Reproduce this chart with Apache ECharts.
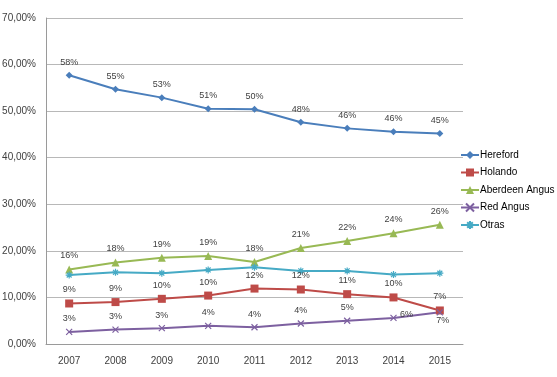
<!DOCTYPE html>
<html>
<head>
<meta charset="utf-8">
<script src="https://cdn.jsdelivr.net/npm/echarts@6/dist/echarts.min.js"></script>
<style>
html,body{margin:0;padding:0;background:#fff;}
#chart{width:557px;height:377px;}
</style>
</head>
<body>
<div id="chart"></div>
<script>
var years = ['2007','2008','2009','2010','2011','2012','2013','2014','2015'];
var hereford = [57.7, 54.7, 52.9, 50.5, 50.4, 47.6, 46.3, 45.6, 45.2];
var holando = [8.7, 9.0, 9.7, 10.4, 11.9, 11.7, 10.7, 10.0, 7.2];
var aberdeen = [16.0, 17.5, 18.5, 18.9, 17.6, 20.6, 22.1, 23.8, 25.6];
var redAngus = [2.6, 3.1, 3.4, 3.9, 3.6, 4.4, 5.0, 5.6, 6.8];
var otras = [14.8, 15.4, 15.2, 15.9, 16.5, 15.7, 15.7, 14.9, 15.2];
var seriesNames = ['Hereford', 'Holando', 'Aberdeen Angus', 'Red Angus', 'Otras'];

var xSym = 'path://M0,0L10,10M10,0L0,10';
var starSym = 'path://M5,0L5,10M0,5L10,5M1.5,1.5L8.5,8.5M8.5,1.5L1.5,8.5';

var FONT = '"Liberation Sans", Arial, sans-serif';
var labelColor = '#404040';
function pctLabel(p) { return Math.round(p.value) + '%'; }
var baseLabel = {show: true, position: 'top', distance: 5, color: labelColor, fontSize: 9, fontFamily: FONT, formatter: pctLabel};

function mk(name, data, color, symbol, size, withLabels, special) {
  var d = data.map(function (v, i) {
    var item = {value: v};
    if (special && special[i]) item.label = special[i];
    return item;
  });
  return {
    name: name, type: 'line', data: d,
    symbol: symbol, symbolSize: size,
    lineStyle: {color: color, width: 2},
    itemStyle: {color: color, borderColor: color, borderWidth: (symbol === xSym || symbol === starSym) ? 1.2 : 0},
    label: withLabels ? baseLabel : {show: false},
    emphasis: {disabled: true},
    animation: false
  };
}

var redSpecial = {
  7: {position: 'right', distance: 3, offset: [0, -3]},
  8: {position: 'bottom', distance: 1, offset: [3, -1]}
};

var chart = echarts.init(document.getElementById('chart'), null, {renderer: 'canvas'});
chart.setOption({
  backgroundColor: '#fff',
  animation: false,
  grid: {left: 46, right: 94, top: 18, bottom: 33, containLabel: false, outerBoundsMode: 'none'},
  legend: {
    orient: 'vertical', left: 460, top: 150, padding: 0,
    itemWidth: 18, itemHeight: 10, itemGap: 7.5,
    data: seriesNames,
    textStyle: {color: '#000', fontSize: 10, fontFamily: FONT, padding: [0, 0, 0, -4]}
  },
  xAxis: {
    type: 'category', data: years, boundaryGap: true,
    axisLine: {show: true, lineStyle: {color: '#9a9a9a', width: 1}},
    axisTick: {show: false},
    axisLabel: {color: labelColor, fontSize: 10, margin: 12, fontFamily: FONT},
    splitLine: {show: false}
  },
  yAxis: {
    type: 'value', min: 0, max: 70, interval: 10,
    axisLine: {show: true, lineStyle: {color: '#9a9a9a', width: 1}},
    axisTick: {show: false},
    axisLabel: {color: labelColor, fontSize: 10, margin: 10, fontFamily: FONT,
      formatter: function (v) { return v.toFixed(2).replace('.', ',') + '%'; }},
    splitLine: {show: true, lineStyle: {color: '#b8b8b8', width: 1}}
  },
  series: [
    mk('Hereford', hereford, '#4A7EBB', 'diamond', 7, true),
    mk('Holando', holando, '#BE4B48', 'rect', 8, true),
    mk('Aberdeen Angus', aberdeen, '#98B954', 'triangle', 8, true),
    mk('Red Angus', redAngus, '#7D60A0', xSym, 6, true, redSpecial),
    mk('Otras', otras, '#46AAC5', starSym, 7, false)
  ]
});
</script>
</body>
</html>
